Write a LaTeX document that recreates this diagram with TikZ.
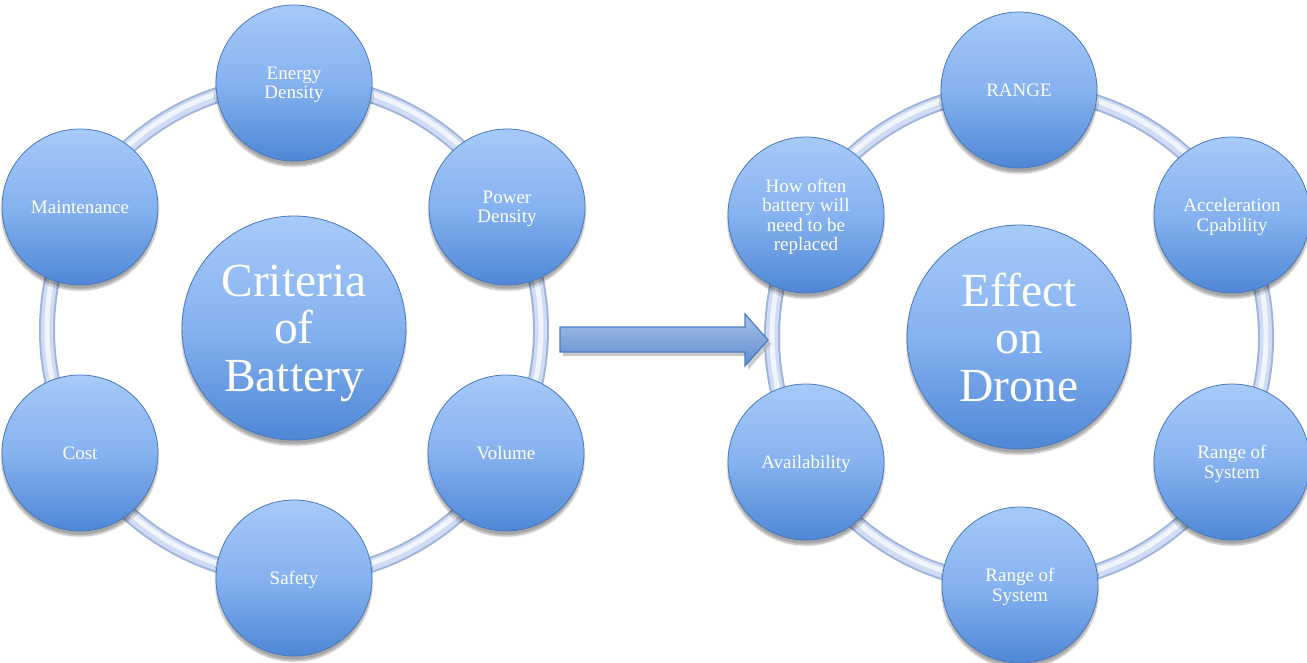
\documentclass[tikz,border=0pt]{standalone}
\usepackage{fontspec}
\setmainfont{Liberation Serif}
\usetikzlibrary{shadows.blur}
\definecolor{ctop}{HTML}{A6CAF9}
\definecolor{cmid}{HTML}{86B2F0}
\definecolor{cbot}{HTML}{4F87D6}
\definecolor{crim}{HTML}{4A78BC}
\definecolor{ringedge}{HTML}{9FB4DC}
\definecolor{ringmid}{HTML}{CFDCF3}
\definecolor{ringhi}{HTML}{F0F5FD}
\definecolor{atop}{HTML}{A9C2E8}
\definecolor{abot}{HTML}{5C8CCF}
\definecolor{aedge}{HTML}{4D7DC0}
\tikzset{
  ball/.style={circle, inner sep=0pt, align=center, text=white, text depth=0pt,
    top color=ctop, bottom color=cbot, middle color=cmid,
    draw=crim, line width=0.8pt,
    blur shadow={shadow xshift=0pt, shadow yshift=-5pt, shadow blur steps=8, shadow opacity=35}},
  small/.style={ball, minimum size=156, font=\fontsize{19}{19.5}\selectfont},
  big/.style={ball, minimum size=224, font=\fontsize{47.5}{47.5}\selectfont},
  ringA/.style={draw=ringedge, line width=16pt},
  ringB/.style={draw=ringmid, line width=12pt},
  ringC/.style={draw=ringhi, line width=5pt},
}
\begin{document}
\begin{tikzpicture}[x=1pt,y=-1pt]
\useasboundingbox (0,0) rectangle (1307,663);
% rings
\foreach \cx/\cy in {294/330, 1019/337}{
  \draw[ringA] (\cx,\cy) circle (247);
  \draw[ringB] (\cx,\cy) circle (247);
  \draw[ringC] (\cx,\cy-1.5) circle (247);
}
% left cluster
\node[big] (crit) at (294,328) {Criteria\\of\\Battery};
\node[small] (energy) at (294,83) {Energy\\Density};
\node[small] (power) at (507,207) {Power\\Density};
\node[small] (volume) at (506,453) {Volume};
\node[small] (safety) at (294,578) {Safety};
\node[small] (cost) at (80,453) {Cost};
\node[small] (maint) at (80,207) {Maintenance};
% right cluster
\node[big] (effect) at (1019,337) {Effect\\on\\Drone};
\node[small] (range) at (1019,90) {RANGE};
\node[small] (accel) at (1232,215) {Acceleration\\Cpability};
\node[small] (rsys1) at (1232,462) {Range of\\System};
\node[small] (rsys2) at (1020,585) {Range of\\System};
\node[small] (avail) at (806,462) {Availability};
\node[small] (often) at (806,215) {How often\\battery will\\need to be\\replaced};
% arrow
\fill[black!35, opacity=0.6] (563,331) -- (748,331) -- (748,318) -- (771,344) -- (748,370) -- (748,356) -- (563,356) -- cycle;
\draw[aedge, line width=1.2pt, top color=atop, bottom color=abot]
  (560,327) -- (745,327) -- (745,314) -- (768,340) -- (745,366) -- (745,352) -- (560,352) -- cycle;
\end{tikzpicture}
\end{document}
